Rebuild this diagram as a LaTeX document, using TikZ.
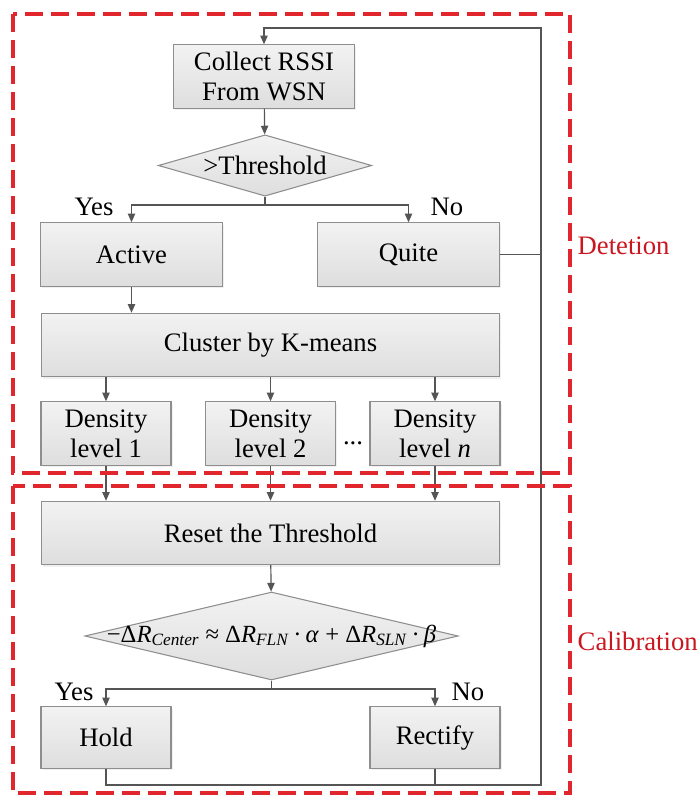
\documentclass[tikz,border=0pt]{standalone}
\usepackage{fontspec}
\setmainfont{Liberation Serif}
\usetikzlibrary{arrows.meta,shapes.geometric,shadows}
\definecolor{FlowGray}{HTML}{555555}
\definecolor{EdgeGray}{HTML}{8E8E8E}
\definecolor{StageRed}{HTML}{E1262D}
\definecolor{StageText}{HTML}{C9161F}

\tikzset{
  procbox/.style={draw=EdgeGray, line width=0.8pt, top color=white!95!black, bottom color=white!87!black,
    drop shadow={opacity=0.12, shadow xshift=1.2pt, shadow yshift=-1.5pt},
    inner sep=0pt, align=center, minimum height=47.5pt},
  decision/.style={diamond, draw=EdgeGray, line width=0.8pt, top color=white!95!black, bottom color=white!87!black,
    inner sep=0pt, aspect=3.5},
  flow/.style={draw=FlowGray, line width=0.9pt},
  arr/.style={flow, -{Triangle[width=5.5pt,length=6.5pt]}},
  stage/.style={draw=StageRed, line width=2.3pt, dash pattern=on 13.5pt off 6pt},
  stagename/.style={anchor=west, text=StageText}
}

\begin{document}
\begin{tikzpicture}[x=0.75pt, y=-0.75pt, font=\fontsize{20}{22.5}\selectfont]
  \useasboundingbox (0,0) rectangle (697,796);

  % detection part
  \node[procbox, minimum width=136pt] (collect) at (264,76.5) {Collect RSSI\\From WSN};
  \node[decision, minimum width=160pt, minimum height=46pt] (thr) at (265,165.5) {>Threshold};
  \node[procbox, minimum width=136pt] (active) at (131.5,254.5) {Active};
  \node[procbox, minimum width=136pt] (quite) at (408.5,254.5) {Quite};
  \node[procbox, minimum width=344pt] (cluster) at (270.5,345) {Cluster by K-means};
  \node[procbox, minimum width=97.5pt] (dens1) at (106,433.5) {Density\\level 1};
  \node[procbox, minimum width=97.5pt] (dens2) at (270.5,433.5) {Density\\level 2};
  \node[procbox, minimum width=97.5pt] (densn) at (435,433.5) {Density\\level \textit{n}};
  \node (dots) at (353,443) {...};

  % calibration part
  \node[procbox, minimum width=344pt] (reset) at (270.5,533) {Reset the Threshold};
  \node[decision, minimum width=280pt, minimum height=66pt,
    label={[font=\fontsize{18.5}{20}\selectfont]center:{−Δ\textit{R}\textsubscript{\textit{Center}} ≈ Δ\textit{R}\textsubscript{\textit{FLN}}\,·\,\textit{α} + Δ\textit{R}\textsubscript{\textit{SLN}}\,·\,\textit{β}}}] (check) at (271.5,636) {};
  \node[procbox, minimum width=97.5pt, minimum height=46pt] (hold) at (106,737.5) {Hold};
  \node[procbox, minimum width=97.5pt, minimum height=46pt] (rectify) at (435,737.5) {Rectify};

  % branch labels
  \node (yes1) at (94,207) {Yes};
  \node (no1) at (447,207) {No};
  \node (yes2) at (74,692) {Yes};
  \node (no2) at (468,692) {No};

  % loop back corners
  \coordinate (looptop) at (541,28);
  \coordinate (loopbot) at (541,785);
  \coordinate (split1) at (265,205);
  \coordinate (split2) at (271.5,689);

  \draw[arr] (collect) -- (thr);
  \draw[arr] (thr.south) -- (split1) -| (active.north);
  \draw[arr] (split1) -| (quite.north);
  \draw[arr] (active.south) -- (active.south |- cluster.north);
  \draw[arr] (cluster.south -| dens1.north) -- (dens1.north);
  \draw[arr] (cluster.south -| dens2.north) -- (dens2.north);
  \draw[arr] (cluster.south -| densn.north) -- (densn.north);
  \draw[arr] (dens1.south) -- (dens1.south |- reset.north);
  \draw[arr] (dens2.south) -- (dens2.south |- reset.north);
  \draw[arr] (densn.south) -- (densn.south |- reset.north);
  \draw[arr] (reset) -- (check);
  \draw[arr] (check.south) -- (split2) -| (hold.north);
  \draw[arr] (split2) -| (rectify.north);

  % feedback to the start
  \draw[flow] (quite.east) -- (quite.east -| loopbot);
  \draw[flow] (rectify.south) -- (rectify.south |- loopbot);
  \draw[arr] (hold.south) |- (loopbot) -- (looptop) -| (collect.north);

  % stage frames
  \draw[stage] (13,14) rectangle (570,473);
  \draw[stage] (13,486) rectangle (570,793);
  \node[stagename] (detect) at (573,246) {Detetion};
  \node[stagename] (calib) at (573,641) {Calibration};
\end{tikzpicture}
\end{document}
